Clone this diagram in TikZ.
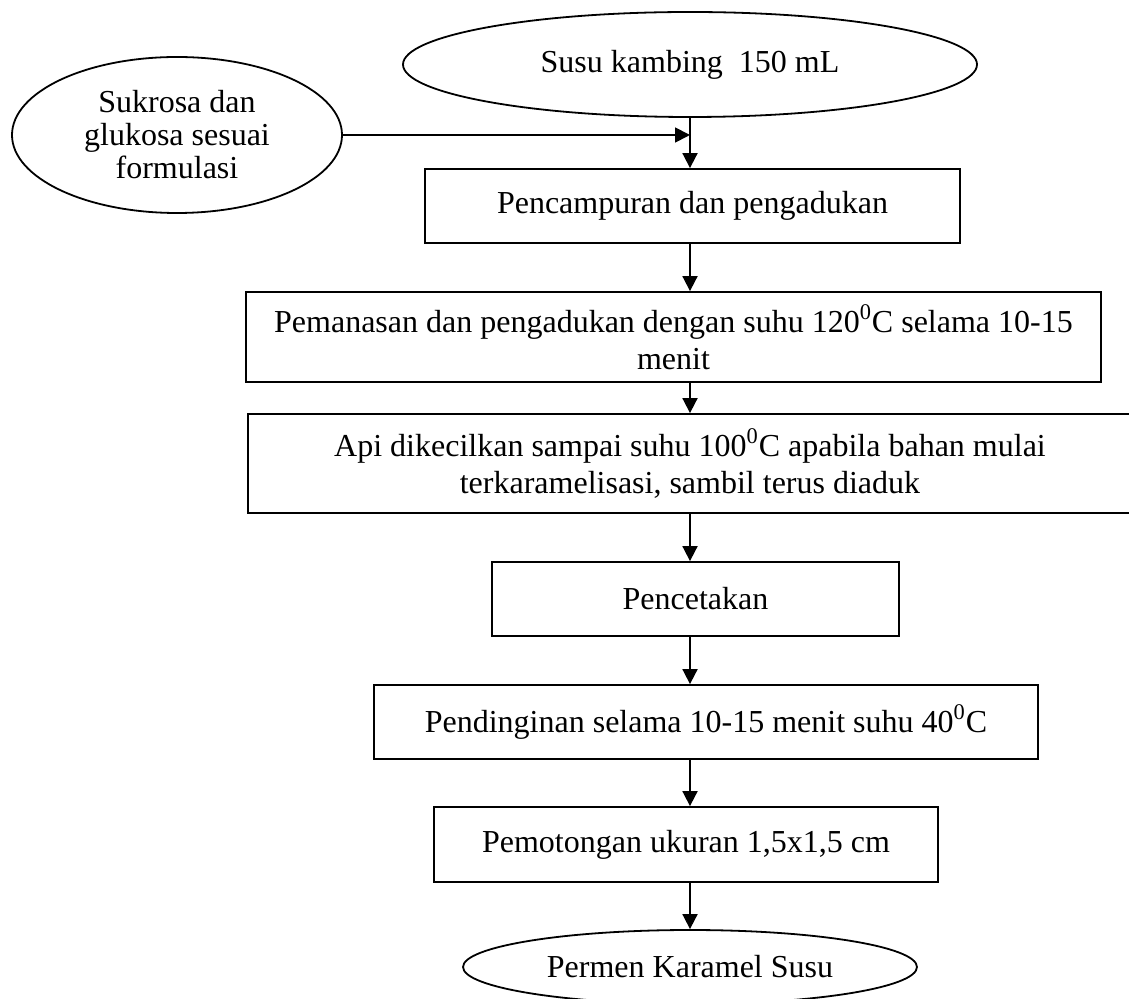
\documentclass[tikz,border=0pt]{standalone}
\usepackage{fontspec}
\setmainfont{Liberation Serif}
\usetikzlibrary{shapes.geometric,arrows.meta}

\begin{document}
\begin{tikzpicture}[x=0.5pt,y=-0.5pt,line width=0.9pt,
  proses/.style={draw,rectangle,inner sep=0pt,align=center,font=\fontsize{16}{18.5}\selectfont},
  awal/.style={draw,ellipse,inner sep=0pt,align=center,font=\fontsize{16}{18.5}\selectfont},
  panah/.style={-{Triangle[width=7.5pt,length=7.5pt]}}]
\useasboundingbox (0,0) rectangle (1129,999);
 \node[awal,minimum width=287pt,minimum height=52.5pt] (susu) at (690,64.5) {Susu kambing \ 150 mL};
 \node[awal,minimum width=165pt,minimum height=78pt,font=\fontsize{16}{16.5}\selectfont] (gula) at (177,135) {Sukrosa dan\\glukosa sesuai\\formulasi};
 \node[proses,minimum width=267.5pt,minimum height=37pt] (campur) at (692.5,206) {Pencampuran dan pengadukan};
 \node[proses,minimum width=427.5pt,minimum height=45pt] (panas) at (673.5,337) {Pemanasan dan pengadukan dengan suhu 120\textsuperscript{0}C selama 10-15\\menit};
 \node[proses,minimum width=442pt,minimum height=49.5pt] (api) at (690,463.5) {Api dikecilkan sampai suhu 100\textsuperscript{0}C apabila bahan mulai\\terkaramelisasi, sambil terus diaduk};
 \node[proses,minimum width=203.5pt,minimum height=37pt] (cetak) at (695.5,599) {Pencetakan};
 \node[proses,minimum width=332pt,minimum height=37pt] (dingin) at (706,722) {Pendinginan selama 10-15 menit suhu 40\textsuperscript{0}C};
 \node[proses,minimum width=252pt,minimum height=37.5pt] (potong) at (686,844.5) {Pemotongan ukuran 1,5x1,5 cm};
 \node[awal,minimum width=227pt,minimum height=37pt] (permen) at (690,967) {Permen Karamel Susu};
 % alur utama
 \draw[panah] (susu.south) -- (campur.north -| susu);
 \draw[panah] (gula.east) -- (gula.east -| susu);
 \draw[panah] (campur.south -| susu) -- (panas.north -| susu);
 \draw[panah] (panas.south -| susu) -- (api.north -| susu);
 \draw[panah] (api.south -| susu) -- (cetak.north -| susu);
 \draw[panah] (cetak.south -| susu) -- (dingin.north -| susu);
 \draw[panah] (dingin.south -| susu) -- (potong.north -| susu);
 \draw[panah] (potong.south -| susu) -- (permen.north);
\end{tikzpicture}
\end{document}
